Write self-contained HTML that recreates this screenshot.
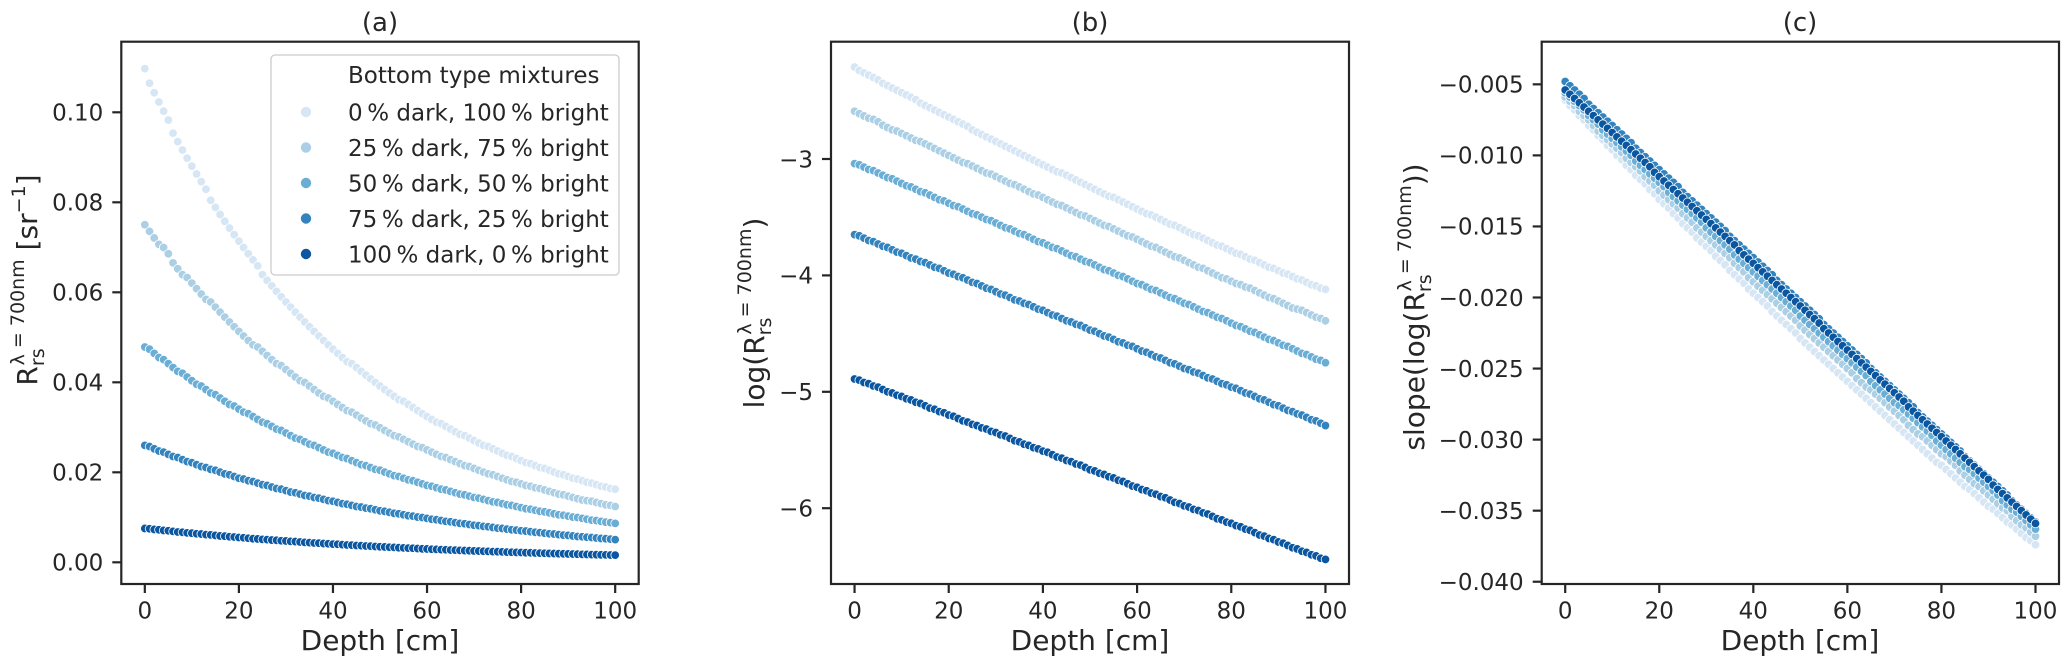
<!DOCTYPE html>
<html><head><meta charset="utf-8"><style>
html,body{margin:0;padding:0;background:#fff;}
svg{display:block;font-family:"DejaVu Sans","Liberation Sans",sans-serif;}
text{fill:#262626;}
</style></head><body>
<svg id="fig" width="2067" height="666" viewBox="0 0 2067 666" xmlns="http://www.w3.org/2000/svg">
<g id="layer-a"></g>
<g id="layer-b"></g>
<g id="layer-c"></g>
<text x="380" y="31" font-size="26" text-anchor="middle">(a)</text>
<text x="1090" y="31" font-size="26" text-anchor="middle">(b)</text>
<text x="1800" y="31" font-size="26" text-anchor="middle">(c)</text>
<text x="380" y="650" font-size="28" text-anchor="middle">Depth [cm]</text>
<text x="1090" y="650" font-size="28" text-anchor="middle">Depth [cm]</text>
<text x="1800" y="650" font-size="28" text-anchor="middle">Depth [cm]</text>
<text transform="translate(37,280) rotate(-90)" font-size="28" text-anchor="middle">R<tspan font-size="19" dy="7">rs</tspan><tspan font-size="19" dx="-17" dy="-20">λ = 700nm</tspan><tspan dy="13"> [sr</tspan><tspan font-size="19" dy="-12">−1</tspan><tspan dy="12">]</tspan></text>
<text transform="translate(764,313) rotate(-90)" font-size="28" text-anchor="middle">log(R<tspan font-size="19" dy="7">rs</tspan><tspan font-size="19" dx="-17" dy="-20">λ = 700nm</tspan><tspan dy="13">)</tspan></text>
<text transform="translate(1424,307) rotate(-90)" font-size="28" text-anchor="middle">slope(log(R<tspan font-size="19" dy="7">rs</tspan><tspan font-size="19" dx="-17" dy="-20">λ = 700nm</tspan><tspan dy="13">))</tspan></text>
<g id="legend">
<rect x="271" y="55" width="348" height="220" rx="4" fill="#fff" fill-opacity="0.85" stroke="#cccccc" stroke-width="1.3"/>
<text x="348" y="83" font-size="23">Bottom type mixtures</text>
</g>
</svg>
<script>
const depths = [0,1,2,3,4,5,6,7,8,9,10,11,12,13,14,15,16,17,18,19,20,21,22,23,24,25,26,27,28,29,30,31,32,33,34,35,36,37,38,39,40,41,42,43,44,45,46,47,48,49,50,51,52,53,54,55,56,57,58,59,60,61,62,63,64,65,66,67,68,69,70,71,72,73,74,75,76,77,78,79,80,81,82,83,84,85,86,87,88,89,90,91,92,93,94,95,96,97,98,99,100];
const seriesNames = ["0 % dark, 100 % bright","25 % dark, 75 % bright","50 % dark, 50 % bright","75 % dark, 25 % bright","100 % dark, 0 % bright"];
// log(Rrs) per mixture (panel b); panel a shows exp of these
const logR0 = [-2.21,-2.24,-2.26,-2.28,-2.30,-2.32,-2.35,-2.37,-2.39,-2.41,-2.43,-2.45,-2.47,-2.49,-2.52,-2.54,-2.56,-2.58,-2.60,-2.62,-2.64,-2.66,-2.68,-2.70,-2.72,-2.75,-2.77,-2.79,-2.81,-2.83,-2.85,-2.87,-2.89,-2.91,-2.93,-2.95,-2.97,-2.99,-3.01,-3.03,-3.05,-3.07,-3.09,-3.11,-3.12,-3.14,-3.16,-3.18,-3.20,-3.22,-3.24,-3.26,-3.28,-3.30,-3.32,-3.33,-3.35,-3.37,-3.39,-3.41,-3.43,-3.45,-3.47,-3.48,-3.50,-3.52,-3.54,-3.56,-3.57,-3.59,-3.61,-3.63,-3.65,-3.66,-3.68,-3.70,-3.72,-3.74,-3.75,-3.77,-3.79,-3.81,-3.82,-3.84,-3.86,-3.87,-3.89,-3.91,-3.93,-3.94,-3.96,-3.98,-3.99,-4.01,-4.03,-4.04,-4.06,-4.08,-4.09,-4.11,-4.12];
const logR1 = [-2.59,-2.61,-2.63,-2.65,-2.66,-2.68,-2.71,-2.73,-2.75,-2.76,-2.78,-2.80,-2.82,-2.84,-2.85,-2.87,-2.89,-2.91,-2.93,-2.95,-2.97,-2.99,-3.01,-3.03,-3.04,-3.06,-3.08,-3.10,-3.12,-3.13,-3.15,-3.17,-3.19,-3.21,-3.22,-3.24,-3.26,-3.28,-3.30,-3.31,-3.33,-3.35,-3.37,-3.39,-3.40,-3.42,-3.44,-3.46,-3.48,-3.49,-3.51,-3.53,-3.55,-3.57,-3.58,-3.60,-3.62,-3.64,-3.66,-3.67,-3.69,-3.71,-3.73,-3.75,-3.76,-3.78,-3.80,-3.82,-3.84,-3.85,-3.87,-3.89,-3.91,-3.93,-3.94,-3.96,-3.98,-4.00,-4.02,-4.03,-4.05,-4.07,-4.08,-4.10,-4.11,-4.13,-4.15,-4.17,-4.19,-4.20,-4.22,-4.24,-4.26,-4.28,-4.29,-4.30,-4.32,-4.34,-4.36,-4.37,-4.39];
const logR2 = [-3.04,-3.05,-3.07,-3.09,-3.10,-3.12,-3.14,-3.16,-3.17,-3.19,-3.21,-3.23,-3.24,-3.26,-3.28,-3.29,-3.31,-3.33,-3.35,-3.36,-3.38,-3.40,-3.41,-3.43,-3.45,-3.47,-3.48,-3.50,-3.52,-3.53,-3.55,-3.57,-3.59,-3.60,-3.62,-3.64,-3.65,-3.67,-3.69,-3.71,-3.72,-3.74,-3.76,-3.77,-3.79,-3.81,-3.83,-3.84,-3.86,-3.88,-3.89,-3.91,-3.93,-3.95,-3.96,-3.98,-4.00,-4.01,-4.03,-4.05,-4.07,-4.08,-4.10,-4.12,-4.13,-4.15,-4.17,-4.19,-4.20,-4.22,-4.24,-4.25,-4.27,-4.29,-4.31,-4.32,-4.34,-4.36,-4.37,-4.39,-4.41,-4.43,-4.44,-4.46,-4.48,-4.49,-4.51,-4.53,-4.55,-4.56,-4.58,-4.60,-4.61,-4.63,-4.65,-4.67,-4.68,-4.70,-4.72,-4.73,-4.75];
const logR3 = [-3.65,-3.66,-3.68,-3.70,-3.71,-3.73,-3.75,-3.76,-3.78,-3.80,-3.81,-3.83,-3.85,-3.86,-3.88,-3.89,-3.91,-3.93,-3.94,-3.96,-3.98,-3.99,-4.01,-4.02,-4.04,-4.06,-4.07,-4.09,-4.11,-4.12,-4.14,-4.16,-4.17,-4.19,-4.21,-4.22,-4.24,-4.25,-4.27,-4.29,-4.30,-4.32,-4.34,-4.35,-4.37,-4.39,-4.40,-4.42,-4.43,-4.45,-4.47,-4.48,-4.50,-4.52,-4.53,-4.55,-4.57,-4.58,-4.60,-4.61,-4.63,-4.65,-4.66,-4.68,-4.70,-4.71,-4.73,-4.75,-4.76,-4.78,-4.80,-4.81,-4.83,-4.84,-4.86,-4.88,-4.89,-4.91,-4.93,-4.94,-4.96,-4.97,-4.99,-5.01,-5.02,-5.04,-5.06,-5.07,-5.09,-5.11,-5.12,-5.14,-5.16,-5.17,-5.19,-5.20,-5.22,-5.24,-5.25,-5.27,-5.29];
const logR4 = [-4.89,-4.90,-4.92,-4.93,-4.95,-4.96,-4.98,-5.00,-5.01,-5.03,-5.04,-5.06,-5.07,-5.09,-5.10,-5.12,-5.14,-5.15,-5.17,-5.18,-5.20,-5.21,-5.23,-5.25,-5.26,-5.28,-5.29,-5.31,-5.32,-5.34,-5.35,-5.37,-5.38,-5.40,-5.42,-5.43,-5.45,-5.46,-5.48,-5.49,-5.51,-5.52,-5.54,-5.56,-5.57,-5.59,-5.60,-5.62,-5.63,-5.65,-5.67,-5.68,-5.70,-5.71,-5.73,-5.74,-5.76,-5.77,-5.79,-5.81,-5.82,-5.84,-5.85,-5.87,-5.88,-5.90,-5.91,-5.93,-5.95,-5.96,-5.98,-5.99,-6.01,-6.02,-6.04,-6.05,-6.07,-6.09,-6.10,-6.12,-6.13,-6.15,-6.16,-6.18,-6.19,-6.21,-6.23,-6.24,-6.26,-6.27,-6.29,-6.30,-6.32,-6.34,-6.35,-6.37,-6.38,-6.40,-6.41,-6.43,-6.44];
// slope(log(Rrs)) per mixture in units of 1e-4 (panel c)
const slopeE4_0 = [-61,-65,-68,-72,-75,-79,-82,-86,-89,-93,-96,-100,-103,-107,-110,-114,-117,-120,-124,-127,-131,-134,-137,-141,-144,-148,-151,-154,-158,-161,-164,-167,-171,-174,-177,-181,-184,-187,-190,-194,-197,-200,-203,-206,-210,-213,-216,-219,-222,-225,-229,-232,-235,-238,-241,-244,-247,-250,-253,-256,-259,-262,-265,-268,-271,-274,-277,-280,-283,-286,-289,-292,-295,-298,-301,-304,-307,-310,-313,-316,-318,-321,-324,-327,-330,-333,-335,-338,-341,-344,-347,-349,-352,-355,-358,-360,-363,-366,-369,-371,-374];
const slopeE4_1 = [-59,-62,-65,-69,-72,-75,-79,-83,-86,-89,-92,-95,-98,-102,-105,-108,-111,-115,-118,-121,-125,-128,-131,-134,-137,-141,-144,-147,-151,-154,-157,-160,-163,-166,-169,-172,-176,-179,-182,-186,-189,-192,-195,-198,-201,-204,-207,-210,-213,-216,-220,-223,-226,-229,-232,-235,-238,-241,-244,-247,-250,-253,-257,-260,-263,-265,-268,-271,-274,-277,-280,-283,-286,-290,-293,-296,-298,-301,-304,-307,-310,-312,-315,-318,-322,-325,-328,-331,-333,-336,-339,-342,-345,-348,-350,-354,-357,-360,-362,-365,-368];
const slopeE4_2 = [-56,-59,-62,-65,-68,-72,-75,-78,-82,-85,-88,-91,-94,-97,-100,-104,-107,-110,-113,-116,-119,-122,-126,-129,-132,-135,-138,-141,-144,-147,-151,-154,-157,-160,-163,-166,-170,-173,-176,-179,-182,-185,-188,-191,-194,-197,-200,-203,-206,-209,-213,-216,-219,-222,-225,-228,-231,-234,-237,-240,-243,-246,-249,-252,-255,-259,-262,-265,-268,-271,-274,-276,-279,-282,-285,-288,-291,-294,-297,-301,-304,-307,-310,-313,-316,-319,-321,-324,-327,-330,-333,-336,-339,-343,-346,-349,-351,-354,-357,-360,-363];
const slopeE4_3 = [-48,-51,-54,-57,-60,-64,-67,-70,-73,-76,-79,-82,-85,-88,-91,-95,-98,-101,-104,-107,-110,-113,-116,-119,-122,-126,-129,-132,-135,-138,-141,-144,-147,-150,-153,-157,-160,-163,-166,-169,-172,-175,-178,-181,-184,-188,-191,-194,-197,-200,-203,-206,-209,-212,-215,-219,-222,-225,-228,-231,-234,-237,-240,-243,-246,-250,-253,-256,-259,-262,-265,-268,-271,-274,-277,-281,-284,-287,-290,-293,-296,-299,-302,-305,-308,-312,-315,-318,-321,-324,-327,-330,-333,-336,-339,-343,-346,-349,-352,-355,-358];
const slopeE4_4 = [-54,-57,-60,-63,-66,-69,-72,-75,-78,-81,-84,-87,-90,-93,-96,-99,-102,-105,-108,-112,-115,-118,-121,-124,-127,-130,-133,-136,-139,-142,-145,-148,-151,-154,-157,-160,-163,-167,-170,-173,-176,-179,-182,-185,-188,-191,-194,-197,-200,-203,-206,-209,-212,-215,-218,-222,-225,-228,-231,-234,-237,-240,-243,-246,-249,-252,-255,-258,-261,-264,-267,-270,-273,-277,-280,-283,-286,-289,-292,-295,-298,-301,-304,-307,-310,-313,-316,-319,-322,-325,-328,-332,-335,-338,-341,-344,-347,-350,-353,-356,-359];
const xTicks = [0,20,40,60,80,100];
const aTicks = [0,0.02,0.04,0.06,0.08,0.10];
const aTickLabels = ["0.00","0.02","0.04","0.06","0.08","0.10"];
const bTicks = [-3,-4,-5,-6];
const bTickLabels = ["−3","−4","−5","−6"];
const cTicks = [-0.005,-0.010,-0.015,-0.020,-0.025,-0.030,-0.035,-0.040];
const cTickLabels = ["−0.005","−0.010","−0.015","−0.020","−0.025","−0.030","−0.035","−0.040"];

const colors = ["#d6e6f4","#abcfe5","#6aaed6","#3383be","#0a56a0"];
const NS = "http://www.w3.org/2000/svg";
const logSeries = [logR0,logR1,logR2,logR3,logR4];
const slopeSeries = [slopeE4_0,slopeE4_1,slopeE4_2,slopeE4_3,slopeE4_4];

function mk(tag, attrs, parent){
  const e = document.createElementNS(NS, tag);
  for (const k in attrs) e.setAttribute(k, attrs[k]);
  parent.appendChild(e);
  return e;
}
function makeScale(d0,d1,r0,r1){ return v => r0 + (v-d0)/(d1-d0)*(r1-r0); }

const panels = [
  {id:"a", L:121.3, R:638.7, T:41.7, B:584, ymin:-0.00482, ymax:0.11569, ticks:aTicks, labels:aTickLabels,
   val:(s,i)=>Math.exp(logSeries[s][i])},
  {id:"b", L:831, R:1349, T:41.7, B:584, ymin:-6.6512, ymax:-1.9923, ticks:bTicks, labels:bTickLabels,
   val:(s,i)=>logSeries[s][i]},
  {id:"c", L:1541.7, R:2059, T:41.7, B:584, ymin:-0.04016, ymax:-0.0020, ticks:cTicks, labels:cTickLabels,
   val:(s,i)=>slopeSeries[s][i]*1e-4}
];

panels.forEach(p => {
  const g = document.getElementById("layer-"+p.id);
  const xs = makeScale(-5,105,p.L,p.R);
  const ys = makeScale(p.ymin,p.ymax,p.B,p.T);
  // points
  for (let s=0; s<5; s++){
    const sg = mk("g",{},g);
    
    
    for (let i=0;i<depths.length;i++){
      const c = mk("circle",{cx:xs(depths[i]).toFixed(2), cy:ys(p.val(s,i)).toFixed(2), r:4.3, fill:colors[s], stroke:"#fff", "stroke-width":0.8}, sg);
      
      
    }
  }
  // frame
  const fr = mk("rect",{x:p.L,y:p.T,width:p.R-p.L,height:p.B-p.T,fill:"none",stroke:"#262626","stroke-width":2.2},g);
  
  
  // x ticks
  xTicks.forEach(t => {
    const x = xs(t);
    const tk = mk("line",{x1:x,x2:x,y1:p.B,y2:p.B+9,stroke:"#262626","stroke-width":2.2},g);
    
    
    const tl = mk("text",{x:x,y:618.5,"font-size":23,"text-anchor":"middle"},g);
    tl.textContent = String(t);
    
    
  });
  // y ticks
  p.ticks.forEach((t,k) => {
    const y = ys(t);
    const tk = mk("line",{x1:p.L-9,x2:p.L,y1:y,y2:y,stroke:"#262626","stroke-width":2.2},g);
    
    
    const tl = mk("text",{x:p.L-18,y:y+8.3,"font-size":23,"text-anchor":"end"},g);
    tl.textContent = p.labels[k];
    
    
  });
});

// legend entries
const lg = document.getElementById("legend");
const legendY = [112,147.5,183,218.5,254];
seriesNames.forEach((n,k) => {
  const eg = mk("g",{},lg);
  
  
  mk("circle",{cx:306, cy:legendY[k], r:5.6, fill:colors[k], stroke:"#fff","stroke-width":0.8}, eg);
  const t = mk("text",{x:348, y:legendY[k]+8.3, "font-size":23}, eg);
  t.textContent = n.replace(/ %/g,"\u2009%");
});
</script>
</body></html>
